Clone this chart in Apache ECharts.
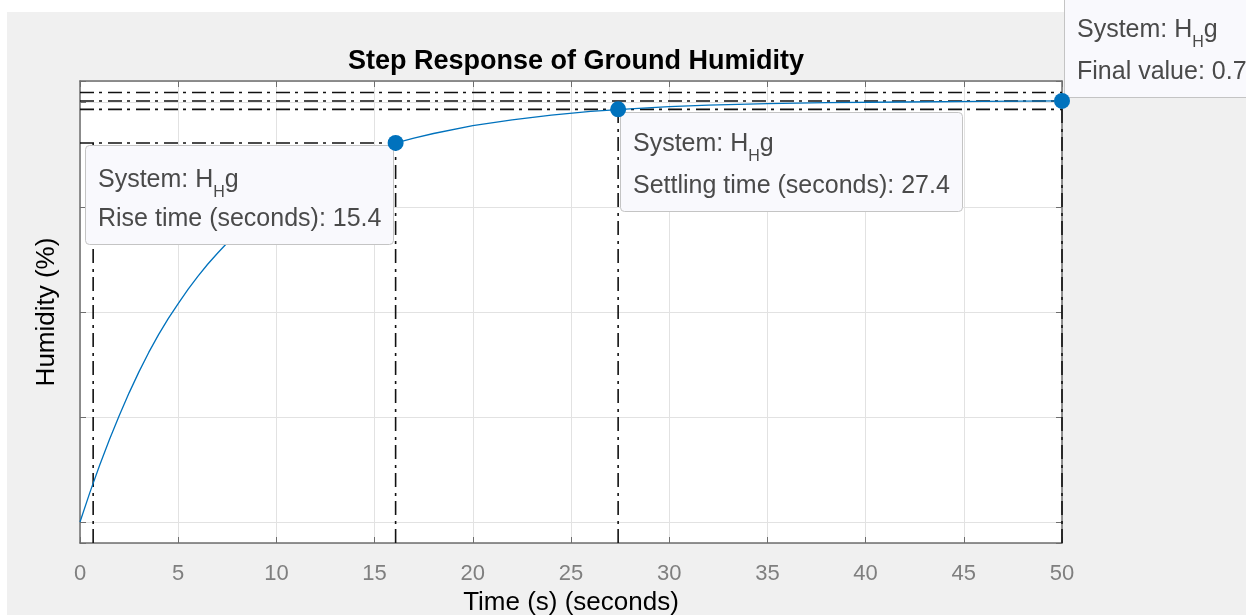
<!DOCTYPE html>
<html><head><meta charset="utf-8">
<script src="https://cdn.jsdelivr.net/npm/echarts@6/dist/echarts.min.js"></script>
<style>html,body{margin:0;padding:0;background:#fff}#c{width:1246px;height:615px}</style>
</head><body><div id="c"></div>
<script>
// ---- chart data ----
const chartTitle = 'Step Response of Ground Humidity';
const xAxisName = 'Time (s) (seconds)';
const yAxisName = 'Humidity (%)';
const systemName = 'H';      // H with subscript H, then g
const xMin = 0, xMax = 50, xInterval = 5;
const yMin = -0.04, yMax = 0.84;

const time     = [0, 0.5, 1, 1.5, 2, 2.5, 3, 3.5, 4, 4.5, 5, 5.5, 6, 6.5, 7, 7.5, 8, 9, 10, 11, 12, 13, 14, 15, 16, 17, 18, 20, 22, 24, 26, 28, 30, 32, 35, 38, 42, 46, 50];
const humidity = [0, 0.056, 0.108, 0.157, 0.203, 0.246, 0.286, 0.323, 0.357, 0.388, 0.416, 0.443, 0.468, 0.491, 0.512, 0.532, 0.55, 0.583, 0.612, 0.637, 0.659, 0.678, 0.694, 0.709, 0.721, 0.731, 0.74, 0.755, 0.766, 0.775, 0.782, 0.787, 0.791, 0.794, 0.797, 0.799, 0.8, 0.801, 0.802];

// characteristic points
const riseStartTime = 0.67;
const riseEndTime = 16.07;
const riseLevel = 0.722;
const riseTimeText = '15.4';
const settleTime = 27.4;
const settleValue = 0.786;
const settleUpper = 0.818;
const settleLower = 0.786;
const settleTimeText = '27.4';
const finalTime = 50;
const finalValue = 0.802;
const finalValueText = '0.7';

// ---- styles ----
const FONT = "'Liberation Sans', Arial, Helvetica, sans-serif";
const BLUE = '#0072BD';
const AXIS = '#6e6e6e';
const GRID = '#e2e2e2';
const DASH = [14, 5, 3, 6];

const chart = echarts.init(document.getElementById('c'), null, {renderer: 'canvas'});

const ctx = document.createElement('canvas').getContext('2d');
function textWidth(s, size) { ctx.font = size + 'px ' + FONT; return ctx.measureText(s).width; }

const TIP_FS = 25, SUB_FS = 16;
function tip(x, y, w, h, line2, b1, b2) {
  const tx = x + 13;
  const mid = (b) => b - 0.3465 * TIP_FS;
  const w1 = textWidth('System: ' + systemName, TIP_FS);
  const ws = textWidth('H', SUB_FS);
  const tcol = '#4a4a4a';
  return [
    {type: 'rect', z: 50, shape: {x: x + 0.5, y: y + 0.5, width: w, height: h, r: 4},
     style: {fill: '#f9f9fd', stroke: '#c4c4c4', lineWidth: 1}},
    {type: 'text', z: 51, x: tx, y: mid(b1), style: {text: 'System: ' + systemName, font: TIP_FS + 'px ' + FONT, fill: tcol, verticalAlign: 'middle', align: 'left'}},
    {type: 'text', z: 51, x: tx + w1, y: b1 + 9 - 0.3465 * SUB_FS, style: {text: 'H', font: SUB_FS + 'px ' + FONT, fill: tcol, verticalAlign: 'middle', align: 'left'}},
    {type: 'text', z: 51, x: tx + w1 + ws, y: mid(b1), style: {text: 'g', font: TIP_FS + 'px ' + FONT, fill: tcol, verticalAlign: 'middle', align: 'left'}},
    {type: 'text', z: 51, x: tx, y: mid(b2), style: {text: line2, font: TIP_FS + 'px ' + FONT, fill: tcol, verticalAlign: 'middle', align: 'left'}}
  ];
}

function refLine(p1, p2) {
  return {type: 'line', data: [p1, p2], symbol: 'none', silent: true, z: 3, xAxisIndex: 0, yAxisIndex: 0,
    lineStyle: {color: '#111', width: 1.6, type: DASH}, animation: false};
}

const gridL = 80, gridT = 81, gridW = 982, gridH = 462;

const axisCommon = {
  axisLine: {show: true, onZero: false, lineStyle: {color: AXIS, width: 1.5}},
  axisTick: {show: true, inside: true, length: 6, lineStyle: {color: AXIS}}
};

const option = {
  backgroundColor: '#f0f0f0',
  animation: false,
  textStyle: {fontFamily: FONT},
  title: {text: chartTitle, left: gridL + gridW / 2, textAlign: 'center', top: 43,
    textStyle: {fontFamily: FONT, fontSize: 27, fontWeight: 'bold', color: '#000'}},
  grid: {left: gridL, top: gridT, width: gridW, height: gridH, show: true, backgroundColor: '#fff', borderWidth: 0,
    containLabel: false, outerBoundsMode: 'none'},
  xAxis: [
    Object.assign({type: 'value', min: xMin, max: xMax, interval: xInterval, position: 'bottom',
     name: xAxisName, nameLocation: 'middle', nameGap: 47,
     nameTextStyle: {fontFamily: FONT, fontSize: 26, color: '#000'},
     axisLabel: {color: '#7f7f7f', fontSize: 22, margin: 20, fontFamily: FONT},
     splitLine: {show: true, lineStyle: {color: GRID, width: 1}}}, axisCommon),
    Object.assign({type: 'value', min: xMin, max: xMax, interval: xInterval, position: 'top',
     axisLabel: {show: false}, splitLine: {show: false}}, axisCommon)
  ],
  yAxis: [
    Object.assign({type: 'value', min: yMin, max: yMax, splitNumber: 5, position: 'left',
     name: yAxisName, nameLocation: 'middle', nameGap: 20,
     nameTextStyle: {fontFamily: FONT, fontSize: 26, color: '#000'},
     axisLabel: {show: false},
     splitLine: {show: true, lineStyle: {color: GRID, width: 1}}}, axisCommon),
    Object.assign({type: 'value', min: yMin, max: yMax, splitNumber: 5, position: 'right',
     axisLabel: {show: false}, splitLine: {show: false}}, axisCommon)
  ],
  series: [
    {type: 'line', name: 'H_Hg', data: time.map((t, i) => [t, humidity[i]]), showSymbol: false, symbol: 'none',
     smooth: false, z: 4, lineStyle: {color: BLUE, width: 1.3}},
    refLine([xMin, settleUpper], [xMax, settleUpper]),
    refLine([xMin, finalValue], [xMax, finalValue]),
    refLine([xMin, settleLower], [xMax, settleLower]),
    refLine([xMin, riseLevel], [riseEndTime, riseLevel]),
    refLine([riseStartTime, yMin], [riseStartTime, riseLevel]),
    refLine([riseEndTime, yMin], [riseEndTime, riseLevel]),
    refLine([settleTime, yMin], [settleTime, settleValue]),
    refLine([finalTime, yMin], [finalTime, finalValue]),
    {type: 'scatter', data: [[riseEndTime, riseLevel], [settleTime, settleValue], [finalTime, finalValue]],
     symbol: 'circle', symbolSize: 16, itemStyle: {color: BLUE, opacity: 1}, z: 100}
  ],
  graphic: {elements: [
    {type: 'rect', z: -5, shape: {x: 0, y: 0, width: 1246, height: 12}, style: {fill: '#ffffff'}},
    {type: 'rect', z: -5, shape: {x: 0, y: 0, width: 7, height: 615}, style: {fill: '#ffffff'}},
    ...tip(85, 145, 308, 99, 'Rise time (seconds): ' + riseTimeText, 189, 228),
    ...tip(620, 112, 342, 99, 'Settling time (seconds): ' + settleTimeText, 153, 195),
    ...tip(1064, -6, 220, 103, 'Final value: ' + finalValueText, 39, 81)
  ]}
};
chart.setOption(option);
</script></body></html>
